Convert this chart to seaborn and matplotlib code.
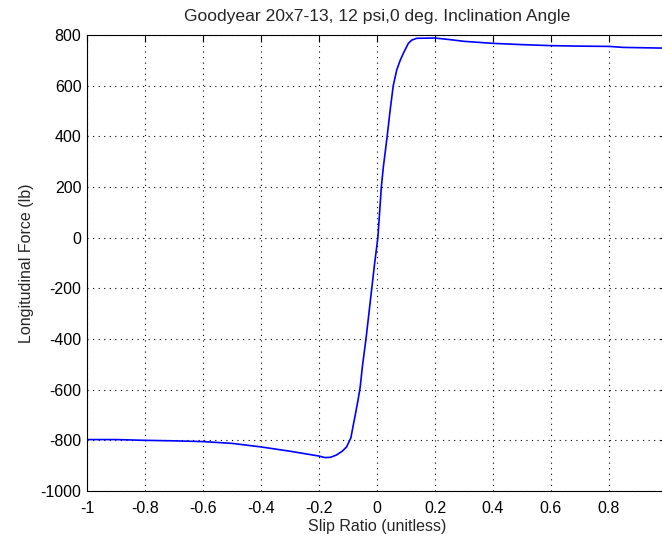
import numpy as np
import pandas as pd
import matplotlib
matplotlib.use("Agg")
import matplotlib.pyplot as plt
import seaborn as sns

# Longitudinal force vs slip ratio, Goodyear 20x7-13 at 12 psi
slip_ratio = [-1.0, -0.9, -0.8, -0.7, -0.6, -0.5, -0.4, -0.3, -0.2, -0.18,
              -0.16, -0.14, -0.12, -0.105, -0.09, -0.083, -0.075, -0.066, -0.058,
              -0.05, -0.038, -0.028, -0.018, -0.008, 0.003, 0.009, 0.015,
              0.022, 0.029, 0.035, 0.045, 0.056, 0.068, 0.08, 0.091, 0.108,
              0.12, 0.137, 0.2, 0.25, 0.3, 0.4, 0.5, 0.6, 0.7, 0.8, 0.85,
              0.9, 1.0]
long_force = [-797, -797, -800, -802, -805, -812, -826, -843, -862, -868,
              -867, -858, -843, -826, -790, -747, -700, -645, -590,
              -505, -400, -300, -200, -100, 0, 100, 200,
              280, 344, 400, 500, 600, 662, 700, 728, 767,
              780, 787, 788, 782, 775, 767, 762, 758, 756, 755, 751,
              750, 748]

x_ticks = [-1, -0.8, -0.6, -0.4, -0.2, 0, 0.2, 0.4, 0.6, 0.8]
x_tick_labels = ["-1", "-0.8", "-0.6", "-0.4", "-0.2", "0", "0.2", "0.4", "0.6", "0.8"]
y_ticks = [-1000, -800, -600, -400, -200, 0, 200, 400, 600, 800]

df = pd.DataFrame({"slip": slip_ratio, "force": long_force})

sns.set_style("white")
plt.rcParams["font.family"] = ["Liberation Sans", "DejaVu Sans"]
plt.rcParams["axes.unicode_minus"] = False

fig = plt.figure(figsize=(6.62, 5.41), dpi=100)
ax = fig.add_axes([87 / 662, 50 / 541, 580 / 662, 456 / 541])

sns.lineplot(data=df, x="slip", y="force", ax=ax, color="#0000ff",
             linewidth=1.2, estimator=None, sort=False)

ax.set_xlim(-1, 1)
ax.set_ylim(-1000, 800)
ax.set_xticks(x_ticks)
ax.set_xticklabels(x_tick_labels)
ax.set_yticks(y_ticks)

ax.grid(True, color="black", linestyle=(0, (1, 4)), linewidth=0.8)
ax.tick_params(direction="in", length=5, width=0.8, top=True, right=True,
               labelsize=11.5, colors="black")
ax.tick_params(axis="x", pad=7)
ax.tick_params(axis="y", pad=4)
for s in ax.spines.values():
    s.set_color("black")
    s.set_linewidth(0.8)

ax.set_title("Goodyear 20x7-13, 12 psi,0 deg. Inclination Angle", fontsize=12.6, pad=10)
ax.set_xlabel("Slip Ratio (unitless)", fontsize=11.5, labelpad=2)
ax.set_ylabel("Longitudinal Force (lb)", fontsize=11.5, labelpad=5)

fig.savefig("out.png", dpi=100)
